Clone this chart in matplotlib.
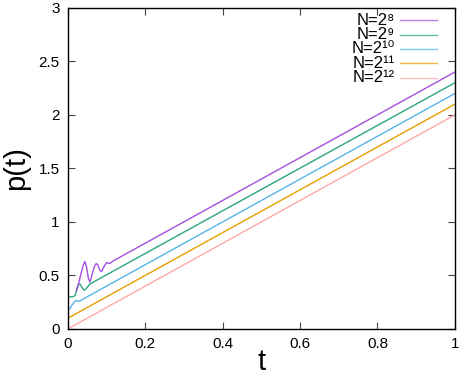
import matplotlib.pyplot as plt
import numpy as np

plt.rcParams['font.family'] = ['Liberation Sans', 'DejaVu Sans']

# p(t) curves, one per N
labels = ['N=2⁸', 'N=2⁹', 'N=2¹⁰', 'N=2¹¹', 'N=2¹²']
colors = ['#a64ee0', '#2aa67f', '#56b4e9', '#e69f00', '#ffa8a8']

t8 = [0.022, 0.028, 0.034, 0.040, 0.044, 0.048, 0.053, 0.057, 0.062, 0.068, 0.073, 0.077, 0.082, 0.087, 0.093, 0.100, 0.108, 0.117, 1.0]
p8 = [0.36, 0.43, 0.52, 0.60, 0.63, 0.58, 0.47, 0.44, 0.50, 0.58, 0.61, 0.60, 0.55, 0.535, 0.58, 0.62, 0.61, 0.635, 2.40]
t9 = [0.005, 0.012, 0.018, 0.022, 0.027, 0.031, 0.036, 0.042, 0.048, 0.057, 1.0]
p9 = [0.30, 0.30, 0.31, 0.35, 0.41, 0.42, 0.39, 0.36, 0.38, 0.42, 2.30]
t10 = [0.005, 0.010, 0.016, 0.021, 0.026, 0.030, 0.035, 1.0]
p10 = [0.19, 0.22, 0.25, 0.265, 0.26, 0.26, 0.27, 2.20]
t11 = [0.0, 1.0]
p11 = [0.10, 2.10]
t12 = [0.0, 1.0]
p12 = [0.0, 2.0]

fig, ax = plt.subplots(figsize=(4.59, 3.75), dpi=100)
fig.subplots_adjust(left=0.148, right=0.991, top=0.979, bottom=0.123)

series = [(t8, p8), (t9, p9), (t10, p10), (t11, p11), (t12, p12)]
# draw larger N first so N=2^8 sits on top
for (tt, pp), c in reversed(list(zip(series, colors))):
    ax.plot(tt, pp, color=c, lw=1.0)

ax.set_xlim(0, 1)
ax.set_ylim(0, 3)
ax.set_xticks([0, 0.2, 0.4, 0.6, 0.8, 1])
ax.set_xticklabels(['0', '0.2', '0.4', '0.6', '0.8', '1'])
ax.set_yticks([0, 0.5, 1, 1.5, 2, 2.5, 3])
ax.set_yticklabels(['0', '0.5', '1', '1.5', '2', '2.5', '3'])
ax.tick_params(direction='in', top=True, right=True, length=5, width=0.8,
               labelsize=11, pad=6, color='#444444')
for s in ax.spines.values():
    s.set_linewidth(1.0)
ax.set_xlabel('t', fontsize=21, labelpad=-2)
ax.set_ylabel('p(t)', fontsize=21, labelpad=6)

# gnuplot-style key: text right-aligned, sample line after it
ys = [0.962, 0.917, 0.872, 0.827, 0.782]
for y, lab, c in zip(ys, labels, colors):
    ax.text(0.845, y, lab, transform=ax.transAxes, ha='right', va='center', fontsize=12)
    ax.plot([0.858, 0.953], [y, y], color=c, lw=1.0, transform=ax.transAxes, alpha=0.75)

fig.savefig('out.png', dpi=100)
